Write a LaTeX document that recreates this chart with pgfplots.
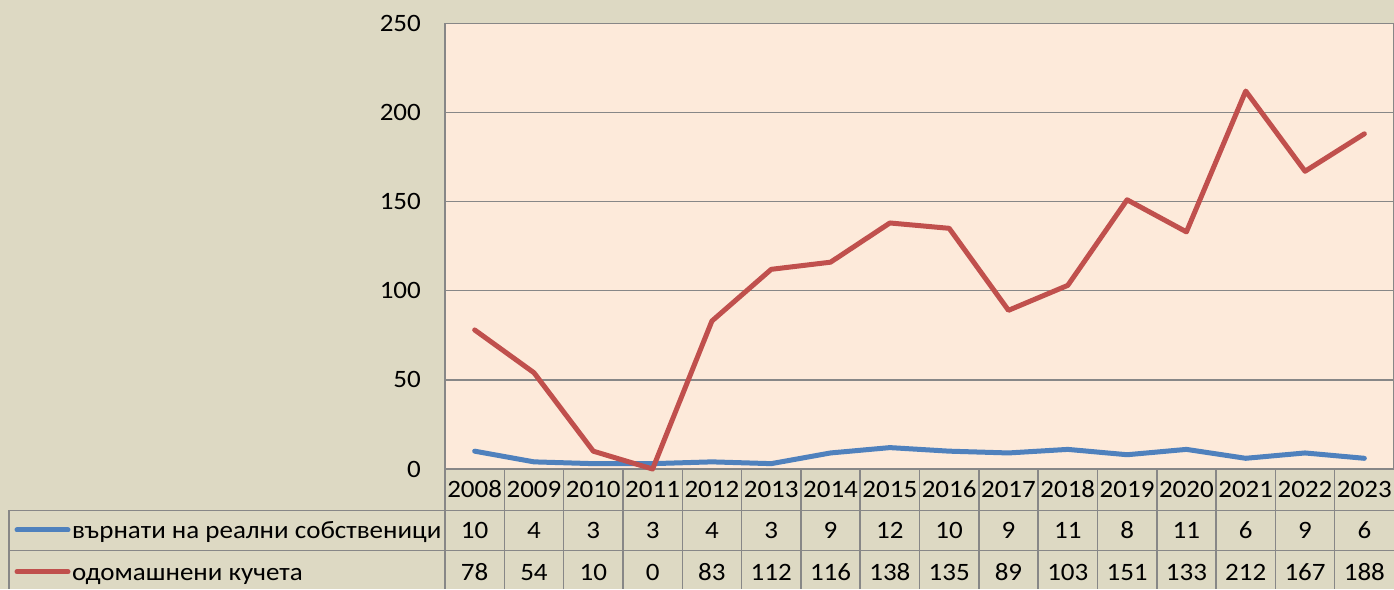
\documentclass[border=0pt]{standalone}
\usepackage{pgfplots}
\pgfplotsset{compat=1.18}
\usepackage{fontspec}
\setmainfont{Carlito}[FakeStretch=1.08]
\definecolor{bgtan}{HTML}{DDD9C3}
\definecolor{plotbg}{HTML}{FDEADA}
\definecolor{gridgray}{HTML}{878787}
\definecolor{lblue}{HTML}{4F81BD}
\definecolor{lred}{HTML}{C0504D}
\begin{document}
\fontsize{25}{28}\selectfont
\begin{tikzpicture}
\useasboundingbox (0pt,0pt) rectangle (1394pt,589pt);
\fill[bgtan] (0pt,0pt) rectangle (1394pt,589pt);
\begin{axis}[
  at={(445pt,120pt)}, anchor=south west,
  scale only axis, width=949pt, height=445.7pt,
  xmin=-0.5, xmax=15.5, ymin=0, ymax=250,
  ytick={0,50,...,250}, xtick=\empty,
  axis background/.style={fill=plotbg},
  ymajorgrids, grid style={gridgray, line width=1.5pt},
  axis line style={gridgray, line width=1.5pt},
  major tick length=0pt,
  /pgf/number format/assume math mode=true,
  yticklabel style={anchor=east, inner sep=0pt, xshift=-24pt, font=\fontsize{25}{28}\selectfont},
  clip=false,
]
\addplot[lblue, line width=5pt, line join=round, line cap=round] coordinates {
(0,10) (1,4) (2,3) (3,3) (4,4) (5,3) (6,9) (7,12) (8,10) (9,9) (10,11) (11,8) (12,11) (13,6) (14,9) (15,6)};
\addplot[lred, line width=5pt, line join=round, line cap=round] coordinates {
(0,78) (1,54) (2,10) (3,0) (4,83) (5,112) (6,116) (7,138) (8,135) (9,89) (10,103) (11,151) (12,133) (13,212) (14,167) (15,188)};
\end{axis}
\begin{scope}[x=1pt,y=1pt]
\draw[gridgray, line width=1.5pt] (445,120) -- (445,0);
\draw[gridgray, line width=1.5pt] (9,78.5) -- (1394,78.5);
\draw[gridgray, line width=1.5pt] (9,38.5) -- (1394,38.5);
\draw[gridgray, line width=1.5pt] (9,78.5) -- (9,0);
\foreach \k in {1,...,15} {
  \draw[gridgray, line width=1.5pt] ({445+59.3125*\k},120) -- ({445+59.3125*\k},0);
}
\foreach \yr/\a/\b [count=\i from 0] in {2008/10/78, 2009/4/54, 2010/3/10, 2011/3/0, 2012/4/83, 2013/3/112, 2014/9/116, 2015/12/138, 2016/10/135, 2017/9/89, 2018/11/103, 2019/8/151, 2020/11/133, 2021/6/212, 2022/9/167, 2023/6/188} {
  \pgfmathsetmacro\cx{445+59.3125*(\i+0.5)}
  \node[anchor=base, inner sep=0pt] at (\cx,91.7) {\yr};
  \node[anchor=base, inner sep=0pt] at (\cx,50) {\a};
  \node[anchor=base, inner sep=0pt] at (\cx,8.3) {\b};
}
\draw[lblue, line width=5pt, line cap=round] (17,59) -- (68,59);
\draw[lred, line width=5pt, line cap=round] (17,17.3) -- (68,17.3);
\node[anchor=base west, inner sep=0pt] at (72,50) {върнати на реални собственици};
\node[anchor=base west, inner sep=0pt] at (72,8.3) {одомашнени кучета};
\end{scope}
\end{tikzpicture}
\end{document}
